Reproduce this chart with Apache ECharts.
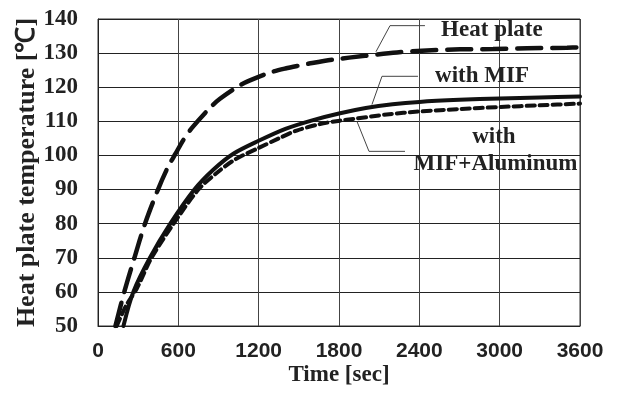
<!DOCTYPE html>
<html>
<head>
<meta charset="utf-8">
<script src="https://cdn.jsdelivr.net/npm/echarts@6/dist/echarts.min.js"></script>
<style>
html,body{margin:0;padding:0;background:#fff;}
#main{width:619px;height:394px;}
</style>
</head>
<body>
<div id="main"></div>
<script>
// ---- data (time [sec], temperature [°C]) ----
var heatPlateT = [130,200,272,351,448,525,579,637,700,837,911,1061,1135,1285,1400,1509,1600,1757,1994,2233,2457,2704,2950,3204,3503,3600];
var heatPlateV = [50,60.5,70,80,90,96.8,100.5,104.5,108,114,116.6,120.6,122,124.3,125.5,126.4,127.1,128.1,129.2,130.2,130.8,131.1,131.2,131.4,131.6,131.7];

var mifT = [190,264,388,540,720,861,1011,1200,1400,1600,1800,2000,2200,2400,2700,3000,3300,3600];
var mifV = [50,60,70,80,90,95.8,100.5,104.3,107.8,110.3,112.3,113.9,115.0,115.7,116.3,116.7,117.0,117.3];

var alT = [140,210,290,400,565,750,900,1023,1200,1350,1484,1658,1807,1907,2156,2405,2704,3002,3301,3600];
var alV = [50,56,61,70,80,90,95.3,98.8,102.2,105.0,107.3,109.2,110.2,110.7,112.0,112.9,113.6,114.2,114.7,115.2];

var xTicks = [0,600,1200,1800,2400,3000,3600];
var yTicks = [50,60,70,80,90,100,110,120,130,140];

// annotations in data space
var labelTexts = ['Heat plate', 'with MIF', 'with', 'MIF+Aluminum'];
var labelPos = [[2942,136.9],[2868,123.4],[2957,105.5],[2969,97.5]];
var leaders = [
  [[2442,138.05],[2181,138.05],[2076,130.4]],
  [[2390,123.2],[2121,123.2],[2046,114.9]],
  [[2293,101.2],[2024,101.2],[1934,110.0]]
];

function zip(a,b){ return a.map(function(v,i){ return [v,b[i]]; }); }

var serif = '"Liberation Serif","Times New Roman",serif';
var sans = '"Liberation Sans",Arial,sans-serif';

var chart = echarts.init(document.getElementById('main'), null, {renderer:'canvas'});
var option = {
  animation:false,
  backgroundColor:'#fff',
  grid:{left:98,right:39,top:19,bottom:68,show:true,borderColor:'#333',borderWidth:1},
  xAxis:{
    type:'value',min:xTicks[0],max:xTicks[xTicks.length-1],interval:600,
    name:'Time [sec]',nameLocation:'middle',nameGap:38,nameMoveOverlap:false,
    nameTextStyle:{fontFamily:serif,fontWeight:'bold',fontSize:23,color:'#222'},
    axisLine:{show:true,lineStyle:{color:'#222',width:1}},
    axisTick:{show:false},
    axisLabel:{fontFamily:sans,fontWeight:'bold',fontSize:21,color:'#222',margin:15,
      formatter:function(v){return String(v);}},
    splitLine:{show:true,lineStyle:{color:'#444',width:1}}
  },
  yAxis:{
    type:'value',min:yTicks[0],max:yTicks[yTicks.length-1],interval:10,
    name:'Heat plate temperature [℃]',nameLocation:'middle',nameGap:58,nameMoveOverlap:false,
    nameTextStyle:{fontFamily:serif,fontWeight:'bold',fontSize:26,color:'#222'},
    axisLine:{show:true,lineStyle:{color:'#222',width:1}},
    axisTick:{show:false},
    axisLabel:{fontFamily:serif,fontWeight:'bold',fontSize:23,color:'#222',margin:20,
      formatter:function(v){return String(v);}},
    splitLine:{show:true,lineStyle:{color:'#222',width:1}}
  },
  series:[
    {name:'Heat plate',type:'line',data:zip(heatPlateT,heatPlateV),showSymbol:false,smooth:0.3,
     lineStyle:{color:'#111',width:4.5,type:[24,11],cap:'round'},z:3},
    {name:'with MIF',type:'line',data:zip(mifT,mifV),showSymbol:false,smooth:0.3,
     lineStyle:{color:'#111',width:4,type:'solid',cap:'round'},z:3},
    {name:'with MIF+Aluminum',type:'line',data:zip(alT,alV),showSymbol:false,smooth:0.3,
     lineStyle:{color:'#111',width:4,type:[8,5],cap:'round'},z:3}
  ]
};
chart.setOption(option);

var g = [];
leaders.forEach(function(pts){
  g.push({type:'polyline',shape:{points:pts.map(function(p){return chart.convertToPixel({gridIndex:0},p);})},
    style:{stroke:'#444',lineWidth:1,fill:null},z:10});
});
labelTexts.forEach(function(t,i){
  var p = chart.convertToPixel({gridIndex:0},labelPos[i]);
  g.push({type:'text',x:p[0],y:p[1],style:{text:t,fill:'#222',font:'bold 23px '+serif,align:'center',verticalAlign:'middle'},z:10});
});
chart.setOption({graphic:g});
</script>
</body>
</html>
